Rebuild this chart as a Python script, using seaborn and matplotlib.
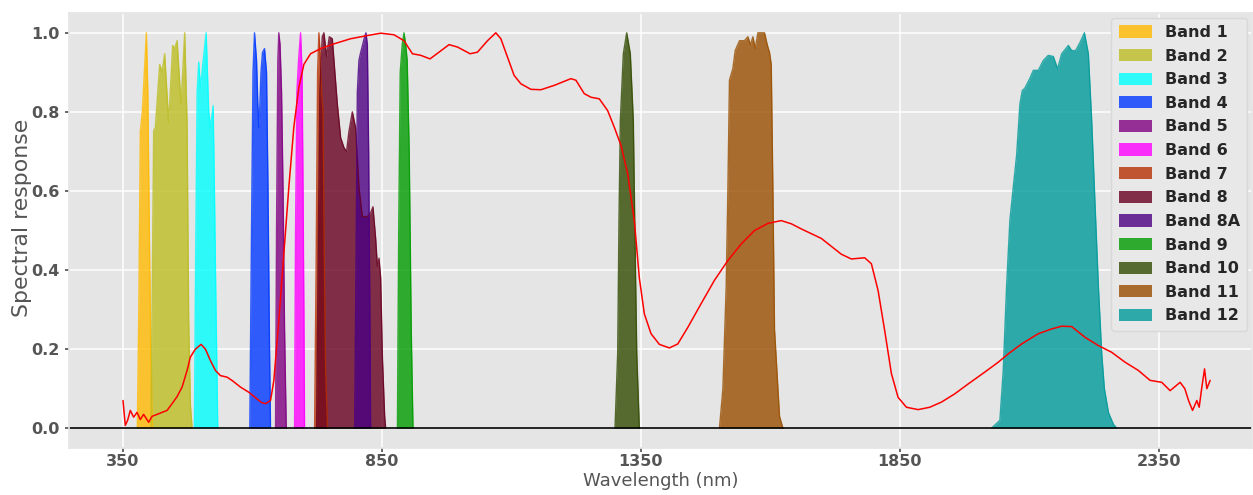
import numpy as np
import pandas as pd
import matplotlib
matplotlib.use("Agg")
import matplotlib.pyplot as plt
import seaborn as sns

# ---------------- data ----------------
spec_nm = [350.2, 354.6, 359.1, 364.3, 370.7, 377.3, 383.6, 390.0, 399.7, 406.3, 415.9, 425.6,
           435.3, 444.9, 454.6, 464.3, 473.9, 480.3, 490.0, 501.0, 509.3, 519.0, 528.7, 538.3,
           551.3, 561.5, 577.0, 593.0, 609.3, 617.6, 625.3, 635.0, 641.4, 651.0, 660.7, 670.4,
           680.0, 689.7, 699.4, 712.3, 731.7, 757.4, 789.7, 822.0, 847.7, 873.4, 892.7, 909.0,
           925.0, 943.0, 960.4, 979.7, 996.0, 1020.3, 1034.6, 1054.0, 1070.0, 1079.7, 1092.7,
           1105.4, 1118.4, 1137.7, 1157.0, 1182.8, 1215.0, 1224.7, 1240.8, 1253.7, 1269.8,
           1286.0, 1298.8, 1311.7, 1324.7, 1337.4, 1347.1, 1356.8, 1369.7, 1385.8, 1405.1,
           1421.3, 1440.7, 1466.4, 1492.1, 1518.0, 1543.8, 1569.5, 1595.4, 1621.1, 1640.4,
           1659.8, 1698.4, 1737.1, 1756.4, 1782.2, 1795.1, 1808.1, 1820.8, 1833.8, 1846.7,
           1862.8, 1885.4, 1907.8, 1930.4, 1956.2, 1982.1, 2014.2, 2040.1, 2059.4, 2085.1,
           2117.4, 2143.1, 2162.5, 2181.8, 2207.5, 2233.4, 2259.1, 2284.8, 2310.7, 2333.2,
           2355.8, 2371.9, 2391.2, 2400.3, 2407.5, 2415.2, 2423.5, 2428.0, 2433.2, 2438.4,
           2442.8, 2449.2]
spec_val = [0.07, 0.007, 0.02, 0.045, 0.028, 0.04, 0.022, 0.035, 0.015, 0.03, 0.035, 0.04,
            0.045, 0.062, 0.08, 0.104, 0.146, 0.18, 0.2, 0.212, 0.2, 0.171, 0.146, 0.133,
            0.129, 0.12, 0.104, 0.091, 0.074, 0.065, 0.062, 0.07, 0.12, 0.272, 0.441, 0.61,
            0.761, 0.862, 0.92, 0.947, 0.96, 0.972, 0.985, 0.993, 0.999, 0.995, 0.98, 0.947,
            0.943, 0.934, 0.951, 0.97, 0.964, 0.947, 0.951, 0.98, 1.0, 0.985, 0.938,
            0.892, 0.871, 0.857, 0.856, 0.867, 0.884, 0.88, 0.846, 0.837, 0.833,
            0.803, 0.761, 0.715, 0.643, 0.525, 0.38, 0.289, 0.239, 0.212, 0.203,
            0.213, 0.255, 0.315, 0.374, 0.424, 0.466, 0.5, 0.518, 0.525, 0.517,
            0.504, 0.48, 0.44, 0.428, 0.431, 0.416, 0.348, 0.247, 0.138, 0.078,
            0.053, 0.047, 0.053, 0.066, 0.087, 0.112, 0.142, 0.167, 0.188, 0.213,
            0.239, 0.251, 0.258, 0.257, 0.23, 0.209, 0.192, 0.167, 0.146, 0.121,
            0.116, 0.095, 0.116, 0.1, 0.07, 0.045, 0.07, 0.053, 0.104, 0.15,
            0.1, 0.121]

band_names = ["Band 1", "Band 2", "Band 3", "Band 4", "Band 5", "Band 6", "Band 7",
              "Band 8", "Band 8A", "Band 9", "Band 10", "Band 11", "Band 12"]

b1_nm = [377.8, 380.7, 383.6, 387.5, 391.4, 395.3, 398.1, 401.0, 403.9, 406.8]
b1_v = [0, 0.3, 0.75, 0.8, 0.9, 1.0, 0.85, 0.5, 0.2, 0]

b2_nm = [404.3, 409.4, 412.6, 421.0, 425.6, 430.6, 438.4, 446.1, 450.0, 454.6, 462.3,
         469.3, 473.9, 477.0, 480.3, 483.6]
b2_v = [0, 0.753, 0.76, 0.92, 0.9, 0.947, 0.774, 0.968, 0.96, 0.98, 0.82, 1.0, 0.77,
        0.27, 0.06, 0]

b3_nm = [488.0, 490.6, 493.3, 496.4, 499.7, 504.9, 510.7, 515.7, 519.0, 524.2, 526.7,
         529.2, 533.1]
b3_v = [0, 0.45, 0.85, 0.926, 0.86, 0.93, 1.0, 0.8, 0.76, 0.816, 0.6, 0.35, 0]

b4_nm = [595.0, 598.3, 601.2, 604.1, 608.0, 610.5, 612.4, 614.5, 616.6, 619.5, 623.4,
         627.3, 630.2, 633.1, 635.0]
b4_v = [0, 0.5, 0.9, 1.0, 0.93, 0.82, 0.76, 0.82, 0.9, 0.95, 0.96, 0.9, 0.6, 0.2, 0]

b5_nm = [644.7, 646.6, 649.1, 651.0, 653.4, 656.3, 659.2, 662.1, 665.4]
b5_v = [0, 0.5, 0.93, 1.0, 0.97, 0.85, 0.6, 0.25, 0]

b6_nm = [681.4, 683.3, 685.9, 689.1, 693.0, 695.9, 697.8, 699.4, 700.7]
b6_v = [0, 0.5, 0.85, 0.93, 1.0, 0.9, 0.6, 0.3, 0]

b7_nm = [720.1, 723.0, 725.9, 728.4, 730.7, 733.6, 736.5, 738.4, 741.3, 745.2]
b7_v = [0, 0.4, 0.9, 1.0, 0.95, 0.85, 0.8, 0.5, 0.15, 0]

b8_nm = [723.9, 727.2, 730.3, 734.9, 738.1, 743.3, 748.5, 754.3, 759.3, 764.0, 770.4,
         776.7, 781.9, 786.4, 793.0, 799.3, 805.7, 812.3, 822.0, 828.3, 832.8, 838.0,
         841.3, 844.4, 847.7, 851.0, 855.4, 857.3]
b8_v = [0, 0.45, 0.85, 0.99, 1.0, 0.94, 0.99, 0.985, 0.9, 0.82, 0.735, 0.71, 0.7, 0.75,
        0.8, 0.76, 0.61, 0.535, 0.535, 0.545, 0.56, 0.48, 0.41, 0.43, 0.38, 0.18, 0.03, 0]

b8a_nm = [797.4, 799.9, 802.6, 805.7, 809.0, 812.9, 816.7, 819.3, 822.0, 824.5, 826.5, 828.3]
b8a_v = [0, 0.4, 0.85, 0.93, 0.95, 0.97, 0.99, 1.0, 0.97, 0.7, 0.35, 0]

b9_nm = [880.0, 882.5, 885.4, 889.3, 892.7, 896.0, 898.9, 902.8, 906.7, 910.1]
b9_v = [0, 0.5, 0.9, 0.97, 1.0, 0.97, 0.93, 0.7, 0.25, 0]

b10_nm = [1300.1, 1305.3, 1307.8, 1310.4, 1316.2, 1322.7, 1329.7, 1335.5, 1338.2,
          1342.1, 1347.1]
b10_v = [0, 0.19, 0.525, 0.778, 0.947, 1.0, 0.947, 0.778, 0.525, 0.19, 0]

b11_nm = [1501.8, 1508.4, 1514.8, 1518.0, 1521.1, 1527.7, 1532.2, 1540.5, 1550.1,
          1556.7, 1561.7, 1566.4, 1570.8, 1576.0, 1588.8, 1594.0, 1598.5, 1601.8,
          1605.0, 1608.1, 1617.8, 1624.4]
b11_v = [0, 0.1, 0.36, 0.6, 0.88, 0.91, 0.955, 0.98, 0.98, 0.99, 0.97, 0.99, 0.96,
         1.0, 1.0, 0.97, 0.95, 0.92, 0.6, 0.25, 0.03, 0]

b12_nm = [2027.1, 2043.2, 2049.7, 2056.1, 2062.5, 2069.1, 2075.5, 2081.9, 2086.5,
          2091.5, 2101.2, 2107.8, 2117.4, 2127.1, 2136.8, 2146.4, 2154.7, 2162.5,
          2175.4, 2181.8, 2189.5, 2197.8, 2206.4, 2214.1, 2220.5, 2226.9, 2233.5,
          2239.8, 2245.0, 2252.8, 2262.4, 2268.8]
b12_v = [0, 0.02, 0.146, 0.357, 0.525, 0.61, 0.69, 0.82, 0.854, 0.86, 0.885, 0.905,
         0.905, 0.93, 0.943, 0.94, 0.909, 0.947, 0.968, 0.955, 0.955, 0.975, 1.0,
         0.947, 0.778, 0.568, 0.357, 0.19, 0.1, 0.04, 0.01, 0]

band_nm = [b1_nm, b2_nm, b3_nm, b4_nm, b5_nm, b6_nm, b7_nm, b8_nm, b8a_nm, b9_nm,
           b10_nm, b11_nm, b12_nm]
band_v = [b1_v, b2_v, b3_v, b4_v, b5_v, b6_v, b7_v, b8_v, b8a_v, b9_v, b10_v, b11_v, b12_v]

band_colors = ["#FFBA00", "#BCBD22", "#00FFFF", "#0038FF", "#800080", "#FF00FF",
               "#B73103", "#670020", "#4B0082", "#009C00", "#324C02", "#994F00",
               "#009A9A"]

x_ticks = [350, 850, 1350, 1850, 2350]
y_ticks = [0.0, 0.2, 0.4, 0.6, 0.8, 1.0]

# ---------------- style ----------------
sns.set_theme(style="darkgrid", rc={
    "axes.facecolor": "#E5E5E5",
    "figure.facecolor": "white",
    "grid.color": "white",
    "grid.linewidth": 1.1,
    "axes.edgecolor": "#E5E5E5",
    "xtick.bottom": True,
    "ytick.left": True,
    "xtick.color": "#555555",
    "ytick.color": "#555555",
    "xtick.major.size": 3,
    "ytick.major.size": 3,
    "xtick.major.pad": 1.5,
})
plt.rcParams["font.family"] = ["DejaVu Sans"]

fig = plt.figure(figsize=(12.53, 4.95), dpi=100)
ax = fig.add_axes([0.0551, 0.095, 0.9441, 0.8787])

handles = []
for name, xs, ys, col in zip(band_names, band_nm, band_v, band_colors):
    h = ax.fill_between(xs, 0, ys, color=col, alpha=0.8, linewidth=0, label=name)
    df = pd.DataFrame({"nm": xs, "v": ys})
    sns.lineplot(data=df, x="nm", y="v", ax=ax, color=col, linewidth=1.0,
                 alpha=0.8, legend=False, estimator=None, sort=False)
    handles.append(h)

spec_df = pd.DataFrame({"nm": spec_nm, "v": spec_val})
sns.lineplot(data=spec_df, x="nm", y="v", ax=ax, color="red", linewidth=1.1,
             legend=False, estimator=None, sort=False)

ax.axhline(0, color="black", linewidth=1.2)

ax.set_xlim(246, 2530)
ax.set_ylim(-0.05, 1.05)
ax.set_xticks(x_ticks)
ax.set_xticklabels([str(t) for t in x_ticks])
ax.set_yticks(y_ticks)
ax.set_yticklabels([f"{t:.1f}" for t in y_ticks])
for lab in ax.get_xticklabels() + ax.get_yticklabels():
    lab.set_fontweight("bold")
    lab.set_fontsize(11.5)
    lab.set_color("#555555")

ax.set_xlabel("Wavelength (nm)", fontsize=13, color="#555555", labelpad=2)
ax.set_ylabel("Spectral response", fontsize=15.8, color="#555555")
ax.yaxis.set_label_coords(-0.031, 0.529)

leg = ax.legend(handles=handles, labels=band_names, loc="upper right",
                prop={"weight": "bold", "size": 11.5}, frameon=True,
                facecolor="#E8E8E8", edgecolor="#D8D8D8", framealpha=1.0,
                handlelength=2.1, handleheight=0.8, labelspacing=0.54,
                borderaxespad=0.3, handletextpad=0.8, borderpad=0.45)

fig.savefig("out.png", dpi=100)
